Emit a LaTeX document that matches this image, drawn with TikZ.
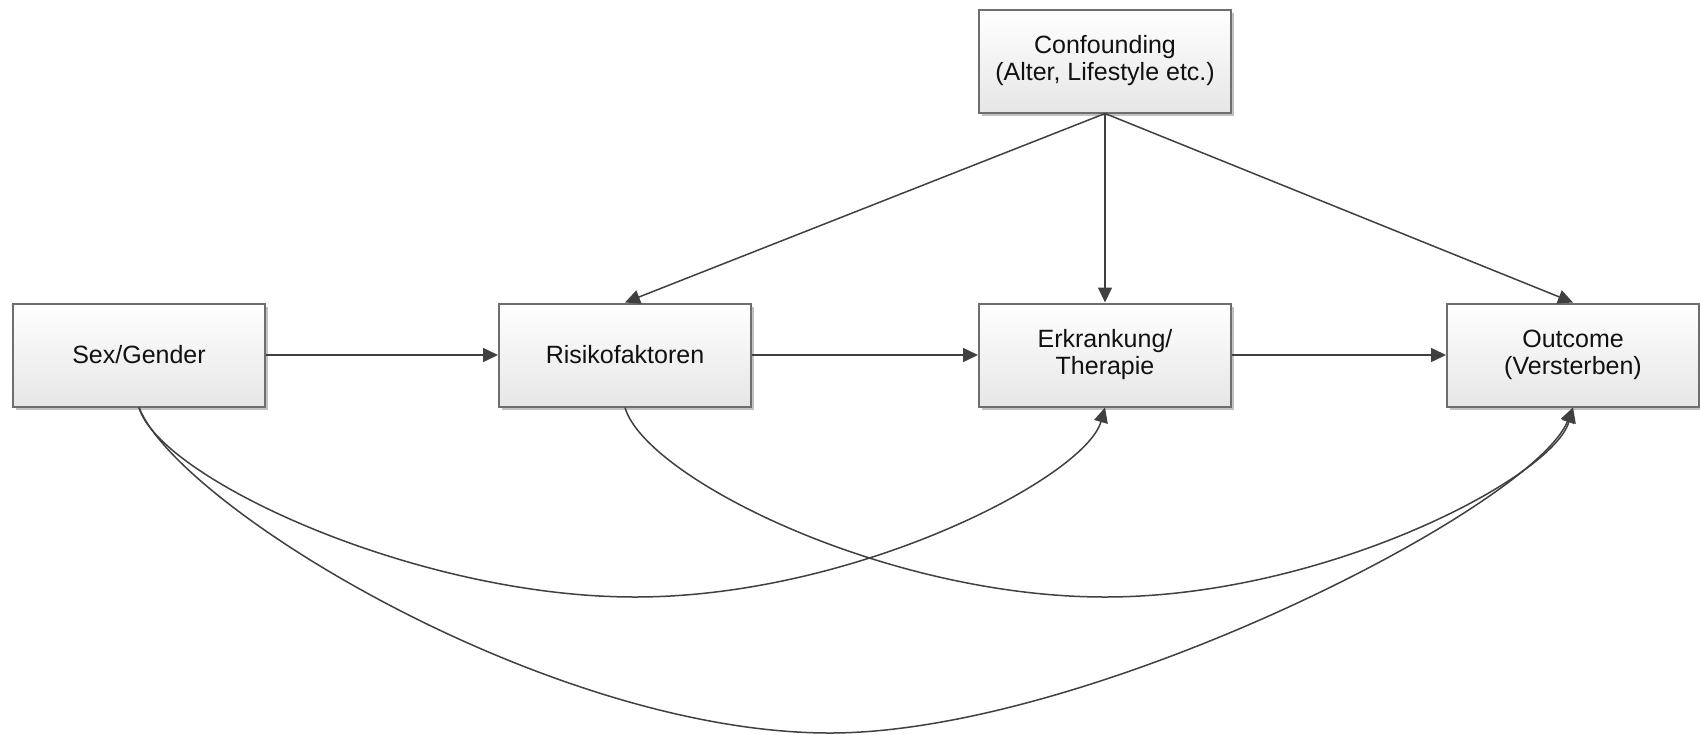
\documentclass[tikz,border=0pt]{standalone}
\usepackage{fontspec}
\setmainfont{Liberation Sans}
\usetikzlibrary{arrows.meta,shadows}
\definecolor{boxborder}{HTML}{6E6E6E}
\definecolor{boxbottom}{HTML}{E6E6E6}
\definecolor{linecol}{HTML}{404040}
\definecolor{textcol}{HTML}{111111}
\begin{document}
\begin{tikzpicture}[x=0.5pt,y=-0.5pt,
  box/.style={draw=boxborder, line width=1pt, top color=white, bottom color=boxbottom,
    minimum width=126pt, minimum height=51.5pt, inner sep=0pt, align=center,
    font=\fontsize{12.5}{13.5}\selectfont, text=textcol,
    drop shadow={shadow xshift=1.5pt, shadow yshift=-1.5pt, fill=black!40, opacity=0.6}},
  link/.style={draw=linecol, line width=0.75pt, -{Triangle[length=7.5pt,width=7pt]}}
]
\useasboundingbox (0,0) rectangle (1700,734);

% boxes
\node[box] (conf) at (1105,61) {Confounding\\(Alter, Lifestyle etc.)};
\node[box] (sex)  at (139,355) {Sex/Gender};
\node[box] (risk) at (625,355) {Risikofaktoren};
\node[box] (erk)  at (1105,355) {Erkrankung/\\Therapie};
\node[box] (out)  at (1573,355) {Outcome\\(Versterben)};

% main chain
\draw[link] (sex.east) -- (risk.west);
\draw[link] (risk.east) -- (erk.west);
\draw[link] (erk.east) -- (out.west);

% confounding paths
\draw[link] (conf.south) -- (risk.north);
\draw[link] (conf.south) -- (erk.north);
\draw[link] (conf.south) -- (out.north);

% lowest points of the curved connectors
\coordinate (se-low) at (635,597);
\coordinate (ro-low) at (1105,597);
\coordinate (so-low) at (830,733);

% direct effects below the chain
\draw[link] (sex.south) .. controls +(20,70) and +(-220,0) .. (se-low)
  .. controls +(220,0) and +(-20,70) .. (erk.south);
\draw[link] (risk.south) .. controls +(20,70) and +(-220,0) .. (ro-low)
  .. controls +(220,0) and +(-20,70) .. (out.south);
\draw[link] (sex.south) .. controls +(40,100) and +(-280,0) .. (so-low)
  .. controls +(260,0) and +(-40,100) .. (out.south);
\end{tikzpicture}
\end{document}
